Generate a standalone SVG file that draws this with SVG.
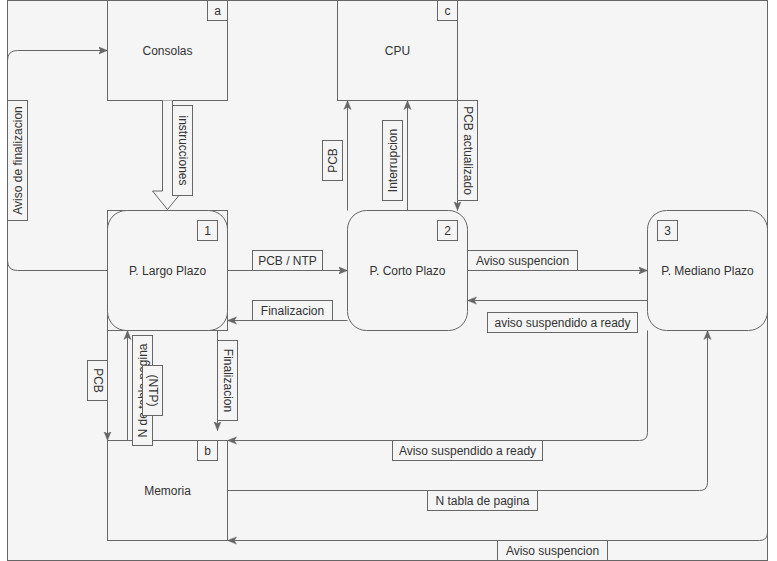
<svg xmlns="http://www.w3.org/2000/svg" width="777" height="561" viewBox="0 0 777 561">
<style>
.box{fill:#f5f5f5;stroke:#666666;stroke-width:1}
.lbl{fill:#f5f5f5;stroke:#666666;stroke-width:1}
.t{font-family:"Liberation Sans",Arial,sans-serif;font-size:12px;fill:#333333;text-anchor:middle;dominant-baseline:central}
.c{fill:none;stroke:#666666;stroke-width:1}
</style>
<defs>
<marker id="ah" viewBox="0 0 10 10" refX="10" refY="5" markerWidth="9" markerHeight="9" markerUnits="userSpaceOnUse" orient="auto">
<path d="M0,1 L10,5 L0,9 L2.5,5 z" fill="#666666" stroke="#666666" stroke-width="0.5"/>
</marker>
</defs>
<rect x="0" y="0" width="777" height="561" fill="#ffffff"/>
<rect x="7.5" y="0.5" width="760" height="560" class="box"/>

<g id="consolas">
<rect x="107.5" y="0.5" width="120" height="100" class="box"/>
<rect x="207.5" y="0.5" width="20" height="20" class="box"/>
<text x="217.5" y="10.5" class="t">a</text>
<text x="167.5" y="50.5" class="t">Consolas</text>
</g>
<g id="cpu">
<rect x="337.5" y="0.5" width="120" height="100" class="box"/>
<rect x="437.5" y="0.5" width="20" height="20" class="box"/>
<text x="447.5" y="10.5" class="t">c</text>
<text x="397.5" y="50.5" class="t">CPU</text>
</g>
<g id="largo">
<rect x="107.5" y="210.5" width="120" height="120" class="box"/>
<rect x="107.5" y="210.5" width="120" height="120" rx="19" ry="19" class="box"/>
<rect x="197.5" y="220.5" width="20" height="20" class="box"/>
<text x="207.5" y="230.5" class="t">1</text>
<text x="167.5" y="270.5" class="t">P. Largo Plazo</text>
</g>
<g id="corto">
<rect x="347.5" y="210.5" width="120" height="120" rx="19" ry="19" class="box"/>
<rect x="437.5" y="220.5" width="20" height="20" class="box"/>
<text x="447.5" y="230.5" class="t">2</text>
<text x="407.5" y="270.5" class="t">P. Corto Plazo</text>
</g>
<g id="mediano">
<rect x="647.5" y="210.5" width="120" height="120" rx="19" ry="19" class="box"/>
<rect x="657.5" y="220.5" width="20" height="20" class="box"/>
<text x="667.5" y="230.5" class="t">3</text>
<text x="707.5" y="270.5" class="t">P. Mediano Plazo</text>
</g>
<g id="memoria">
<rect x="107.5" y="440.5" width="120" height="100" class="box"/>
<rect x="197.5" y="440.5" width="20" height="20" class="box"/>
<text x="207.5" y="450.5" class="t">b</text>
<text x="167.5" y="490.5" class="t">Memoria</text>
</g>

<g id="connectors">
<path class="c" marker-end="url(#ah)" d="M107.5,270.5 H17.5 Q7.5,270.5 7.5,260.5 V60.5 Q7.5,50.5 17.5,50.5 H107.5"/>
<path d="M162.5,100.5 V191 H152.5 L167.5,209.5 L182.5,191 H172.5 V100.5" fill="#f5f5f5" stroke="#666666" stroke-width="1"/>
<path class="c" marker-end="url(#ah)" d="M347.5,210.5 V100.5"/>
<path class="c" marker-end="url(#ah)" d="M407.5,210.5 V100.5"/>
<path class="c" marker-end="url(#ah)" d="M457.5,100.5 V210.5"/>
<path class="c" marker-end="url(#ah)" d="M227.5,270.5 H347.5"/>
<path class="c" marker-end="url(#ah)" d="M347.5,320.5 H227.5"/>
<path class="c" marker-end="url(#ah)" d="M467.5,270.5 H647.5"/>
<path class="c" marker-end="url(#ah)" d="M647.5,300.5 H467.5"/>
<path class="c" marker-end="url(#ah)" d="M107.5,330.5 V440.5"/>
<path class="c" marker-end="url(#ah)" d="M127.5,440.5 V330.5"/>
<path class="c" marker-end="url(#ah)" d="M217.5,330.5 V430.5"/>
<path class="c" marker-end="url(#ah)" d="M647.5,330.5 V432.5 Q647.5,440.5 639.5,440.5 H227.5"/>
<path class="c" marker-end="url(#ah)" d="M227.5,490.5 H699.5 Q707.5,490.5 707.5,482.5 V330.5"/>
<path class="c" marker-end="url(#ah)" d="M767.5,270.5 V532.5 Q767.5,540.5 759.5,540.5 H227.5"/>

<rect x="7.5" y="100.5" width="20" height="120" class="lbl"/>
<text class="t" transform="translate(17.5,160.5) rotate(-90)">Aviso de finalizacion</text>
<rect x="172.5" y="105.5" width="20" height="90" class="lbl"/>
<text class="t" transform="translate(182.5,150.5) rotate(90)">instrucciones</text>
<rect x="322.5" y="140.5" width="20" height="40" class="lbl"/>
<text class="t" transform="translate(332.5,160.5) rotate(-90)">PCB</text>
<rect x="382.5" y="120.5" width="20" height="80" class="lbl"/>
<text class="t" transform="translate(392.5,160.5) rotate(-90)">Interrupcion</text>
<rect x="457.5" y="100.5" width="20" height="100" class="lbl"/>
<text class="t" transform="translate(467.5,150.5) rotate(90)">PCB actualizado</text>
<rect x="252.5" y="250.5" width="70" height="20" class="lbl"/>
<text x="287.5" y="260.5" class="t">PCB / NTP</text>
<rect x="252.5" y="300.5" width="80" height="20" class="lbl"/>
<text x="292.5" y="310.5" class="t">Finalizacion</text>
<rect x="467.5" y="250.5" width="110" height="20" class="lbl"/>
<text x="522.5" y="260.5" class="t">Aviso suspencion</text>
<rect x="487.5" y="312.5" width="150" height="20" class="lbl"/>
<text x="562.5" y="322.5" class="t">aviso suspendido a ready</text>
<rect x="87.5" y="360.5" width="20" height="40" class="lbl"/>
<text class="t" transform="translate(97.5,380.5) rotate(90)">PCB</text>
<rect x="132.5" y="335.5" width="20" height="110" class="lbl"/>
<text class="t" transform="translate(142.5,390.5) rotate(-90)">N de tabla pagina</text>
<rect x="142.5" y="365.5" width="20" height="50" class="lbl"/>
<text class="t" transform="translate(152.5,390.5) rotate(90)">(NTP)</text>
<rect x="217.5" y="340.5" width="20" height="80" class="lbl"/>
<text class="t" transform="translate(227.5,380.5) rotate(90)">Finalizacion</text>
<rect x="392.5" y="440.5" width="150" height="20" class="lbl"/>
<text x="467.5" y="450.5" class="t">Aviso suspendido a ready</text>
<rect x="427.5" y="490.5" width="110" height="20" class="lbl"/>
<text x="482.5" y="500.5" class="t">N tabla de pagina</text>
<rect x="497.5" y="540.5" width="110" height="20" class="lbl"/>
<text x="552.5" y="550.5" class="t">Aviso suspencion</text>
</g>
</svg>
